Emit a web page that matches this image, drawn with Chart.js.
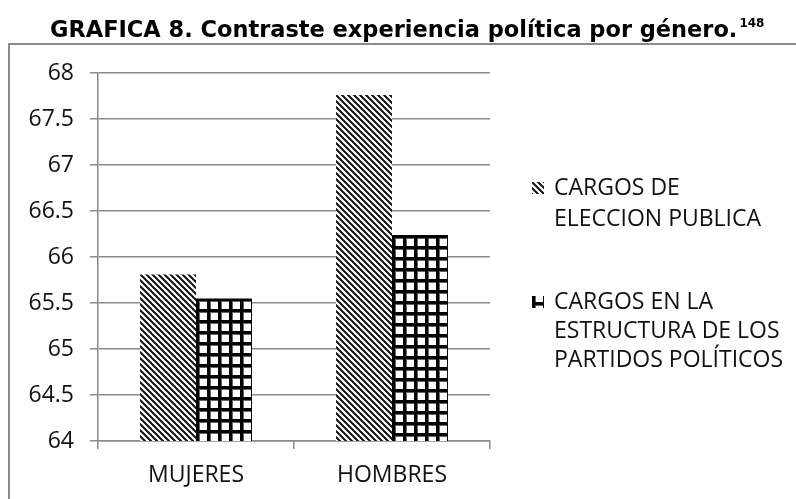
<!DOCTYPE html>
<html>
<head>
<meta charset="utf-8">
<script src="https://cdn.jsdelivr.net/npm/chart.js@4.4.1/dist/chart.umd.min.js"></script>
<style>
  html, body { margin: 0; padding: 0; background: #fff; }
  #wrap { width: 796px; height: 499px; position: relative; }
</style>
</head>
<body>
<div id="wrap"><canvas id="c" width="796" height="499"></canvas></div>
<script>
const categories = ['MUJERES', 'HOMBRES'];
const seriesNames = [
  ['CARGOS DE', 'ELECCION PUBLICA'],
  ['CARGOS EN LA', 'ESTRUCTURA DE LOS', 'PARTIDOS POLÍTICOS']
];
const eleccionPublica = [65.81, 67.76];
const estructuraPartidos = [65.55, 66.24];
const yTickValues = [64, 64.5, 65, 65.5, 66, 66.5, 67, 67.5, 68];
const titleText = 'GRAFICA 8. Contraste experiencia política por género.';
const titleNote = '148';

const canvas = document.getElementById('c');
const ctx = canvas.getContext('2d');
const CAT_PCT = 0.571;

function stripeTile() {
  const t = document.createElement('canvas');
  t.width = 6; t.height = 6;
  const g = t.getContext('2d');
  g.fillStyle = '#fff'; g.fillRect(0, 0, 6, 6);
  g.strokeStyle = '#111'; g.lineWidth = 2;
  for (const k of [-6, 0, 6]) {
    g.beginPath(); g.moveTo(k - 2, -2); g.lineTo(k + 8, 8); g.stroke();
  }
  return t;
}
function gridTile() {
  const t = document.createElement('canvas');
  t.width = 11; t.height = 11;
  const g = t.getContext('2d');
  g.fillStyle = '#fff'; g.fillRect(0, 0, 11, 11);
  g.fillStyle = '#666'; g.fillRect(0, 0, 4, 11); g.fillRect(0, 0, 11, 4);
  g.fillStyle = '#000'; g.fillRect(0, 0, 3, 11); g.fillRect(0, 0, 11, 3);
  return t;
}
const tiles = [stripeTile(), gridTile()];
const patterns = tiles.map(t => ctx.createPattern(t, 'repeat'));

function alignedPattern(i, x, y) {
  const p = ctx.createPattern(tiles[i], 'repeat');
  p.setTransform(new DOMMatrix().translate(Math.round(x), Math.round(y)));
  return p;
}

function barFill(c) {
  const i = c.datasetIndex;
  const chart = c.chart;
  const xs = chart.scales && chart.scales.x, ys = chart.scales && chart.scales.y;
  if (!xs || !ys || c.type !== 'data' || !chart.chartArea) return patterns[i];
  const center = xs.getPixelForValue(c.dataIndex);
  const catW = (chart.chartArea.right - chart.chartArea.left) / categories.length;
  const barW = catW * CAT_PCT / 2;
  const left = i === 0 ? center - barW : center;
  const top = ys.getPixelForValue(c.raw);
  return alignedPattern(i, left, top);
}

const FONT = '"Open Sans", "Liberation Sans", sans-serif';

const decorPlugin = {
  id: 'decor',
  beforeDraw(chart) {
    const c = chart.ctx;
    c.save();
    c.strokeStyle = '#8a8a8a'; c.lineWidth = 2;
    c.beginPath(); c.moveTo(9, 499); c.lineTo(9, 44); c.lineTo(796, 44); c.stroke();
    c.fillStyle = '#000';
    let size = 24;
    c.font = 'bold ' + size + 'px "DejaVu Sans", sans-serif';
    const w = c.measureText(titleText).width;
    size = size * 688 / w;
    c.font = 'bold ' + size + 'px "DejaVu Sans", sans-serif';
    c.textBaseline = 'alphabetic';
    c.textAlign = 'left';
    c.fillText(titleText, 50, 37);
    const tw = c.measureText(titleText).width;
    c.font = 'bold 12px "DejaVu Sans", sans-serif';
    c.fillText(titleNote, 50 + tw + 2, 27);
    c.restore();
  },
  afterDraw(chart) {
    const c = chart.ctx;
    const a = chart.chartArea;
    c.save();
    c.font = '23px ' + FONT;
    c.textBaseline = 'middle';
    c.textAlign = 'left';
    const x0 = a.right + 42;
    const starts = [188, 302];
    const gaps = [31, 29];
    chart.data.datasets.forEach((ds, i) => {
      const y = starts[i];
      c.fillStyle = i === 0 ? alignedPattern(0, x0, y - 6) : alignedPattern(1, x0, y - 11);
      c.fillRect(x0, y - 6, 12, 12);
      c.fillStyle = '#111';
      ds.label.forEach((line, j) => c.fillText(line, x0 + 22, y + j * gaps[i]));
    });
    c.restore();
  }
};

new Chart(canvas, {
  type: 'bar',
  data: {
    labels: categories,
    datasets: [
      { label: seriesNames[0], data: eleccionPublica, backgroundColor: barFill, borderWidth: 0,
        categoryPercentage: CAT_PCT, barPercentage: 1.0 },
      { label: seriesNames[1], data: estructuraPartidos, backgroundColor: barFill, borderWidth: 0,
        categoryPercentage: CAT_PCT, barPercentage: 1.0 }
    ]
  },
  options: {
    responsive: false,
    animation: false,
    layout: { padding: { top: 73, right: 306, bottom: 0, left: 0 } },
    plugins: { legend: { display: false }, title: { display: false }, tooltip: { enabled: false } },
    scales: {
      x: {
        afterFit: s => { s.height = 58; },
        grid: { drawOnChartArea: false, offset: true, tickLength: 8, color: '#8a8a8a', lineWidth: 1.5 },
        border: { color: '#8a8a8a', width: 1.5 },
        ticks: { color: '#111', font: { family: FONT, size: 23 }, padding: 13 }
      },
      y: {
        min: 64, max: 68,
        afterFit: s => { s.width = 98; },
        afterBuildTicks: s => { s.ticks = yTickValues.map(v => ({ value: v })); },
        grid: { color: '#8a8a8a', lineWidth: 1.5, tickLength: 8 },
        border: { color: '#8a8a8a', width: 1.5 },
        ticks: { color: '#111', font: { family: FONT, size: 23 }, padding: 16,
                 callback: v => String(v) }
      }
    }
  },
  plugins: [decorPlugin]
});
</script>
</body>
</html>
